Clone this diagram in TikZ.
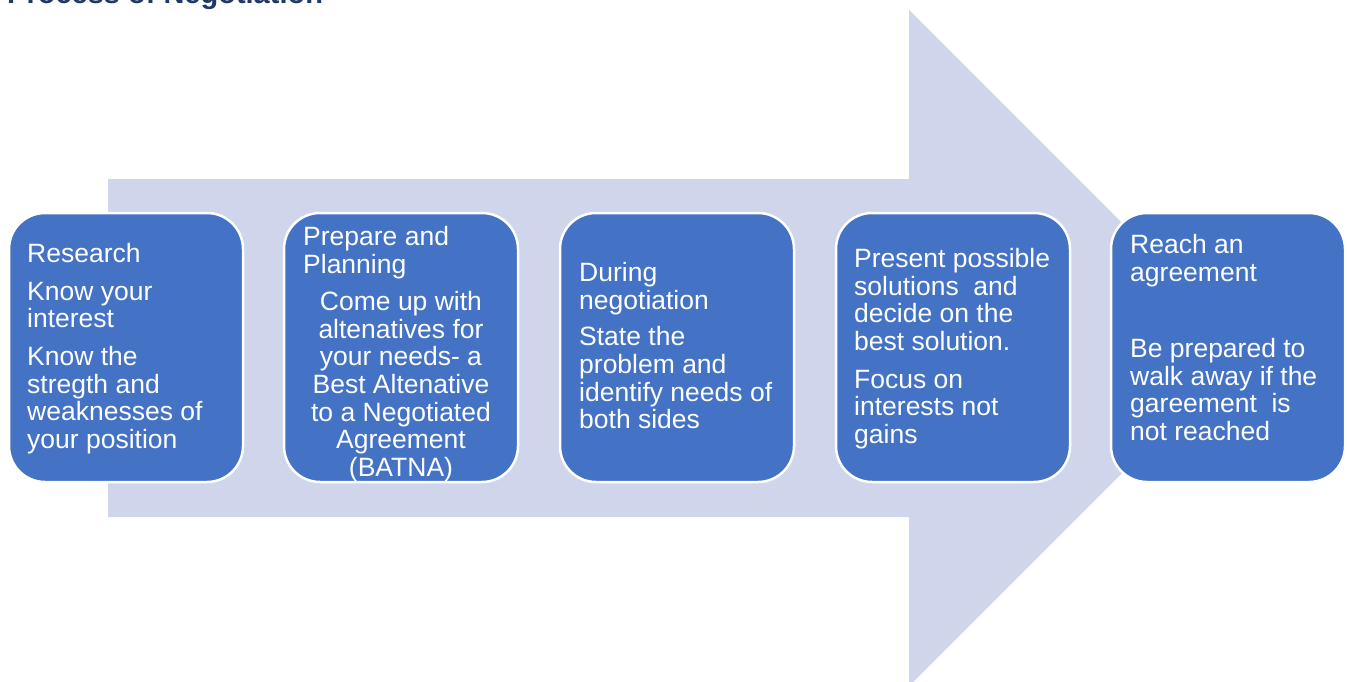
\documentclass[tikz,border=0pt]{standalone}
\usepackage{fontspec}
\setmainfont{Liberation Sans}
\definecolor{arrowfill}{HTML}{CFD5EA}
\definecolor{stepfill}{HTML}{4472C4}
\definecolor{titleblue}{HTML}{203864}
\begin{document}
\begin{tikzpicture}[x=1pt,y=-1pt,
  stepbox/.style={draw=white, line width=2.5pt, fill=stepfill, rounded corners=36pt,
    minimum width=234pt, minimum height=269pt, inner sep=0pt},
  steptext/.style={text=white, font=\fontsize{26.5}{27.7}\selectfont, inner sep=0pt,
    align=left, anchor=north west},
  stepbody/.style={steptext, align=center, anchor=north}]
\useasboundingbox (0,0) rectangle (1347,681);

% title, partly cut by the top edge
\node[anchor=base west, inner sep=0pt, text=titleblue,
  font=\bfseries\fontsize{29}{30}\selectfont] (title) at (7,3.5) {Process of Negotiation};

% large background arrow
\fill[arrowfill] (108,179) -- (909,179) -- (909,10) -- (1247,348)
  -- (909,686) -- (909,517) -- (108,517) -- cycle;

% step boxes
\node[stepbox] (s1) at (126,347.5) {};
\node[stepbox] (s2) at (401,347.5) {};
\node[stepbox] (s3) at (677,347.5) {};
\node[stepbox] (s4) at (953,347.5) {};
\node[stepbox] (s5) at (1228,347.5) {};

% step texts
\node[steptext] (t1) at (27,243) {Research\\[10pt]Know your\\interest\\[10pt]Know the\\stregth and\\weaknesses of\\your position};
\node[steptext] (t2a) at (303,226) {Prepare and\\Planning};
\node[stepbody] (t2b) at (401,291) {Come up with\\altenatives for\\your needs- a\\Best Altenative\\to a Negotiated\\Agreement\\(BATNA)};
\node[steptext] (t3) at (579,262) {During\\negotiation\\[9pt]State the\\problem and\\identify needs of\\both sides};
\node[steptext] (t4) at (854,248) {Present possible\\solutions\ \ and\\decide on the\\best solution.\\[10pt]Focus on\\interests not\\gains};
\node[steptext] (t5) at (1130,234) {Reach an\\agreement\\[48.5pt]Be prepared to\\walk away if the\\gareement\ \ is\\not reached};
\end{tikzpicture}
\end{document}
